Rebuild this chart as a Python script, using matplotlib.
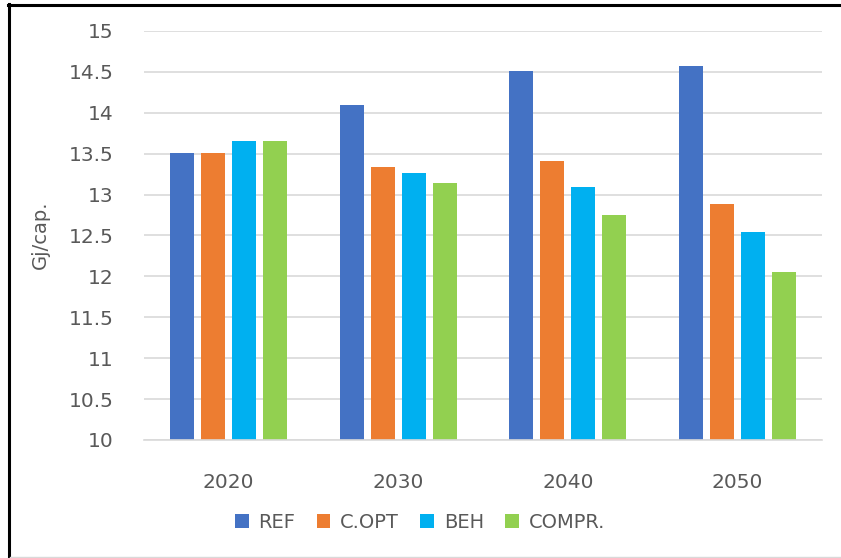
import numpy as np
import matplotlib.pyplot as plt
from matplotlib.lines import Line2D

# values (Gj/cap.)
years = ['2020', '2030', '2040', '2050']
series = ['REF', 'C.OPT', 'BEH', 'COMPR.']
ref = [13.51, 14.09, 14.51, 14.575]
copt = [13.51, 13.34, 13.41, 12.88]
beh = [13.66, 13.27, 13.09, 12.54]
compr = [13.66, 13.14, 12.75, 12.05]
colors = ['#4472C4', '#ED7D31', '#00B0F0', '#92D050']

plt.rcParams['font.family'] = ['DejaVu Sans']
txt = '#595959'

fig = plt.figure(figsize=(8.41, 5.58), dpi=100)
ax = fig.add_axes([144/841, 1-440/558, (822-144)/841, (440-31)/558])

x = np.arange(len(years))
width = 0.1416
pitch = 0.183
for i, (vals, name) in enumerate(zip([ref, copt, beh, compr], series)):
    off = (i - 1.5) * pitch
    ax.bar(x + off, np.array(vals) - 10, width, bottom=10, color=colors[i], label=name, zorder=3)

ax.set_xlim(-0.5, 3.5)
ax.set_ylim(10, 15)
ax.set_yticks(np.arange(10, 15.01, 0.5))
ax.set_yticklabels(['10', '10.5', '11', '11.5', '12', '12.5', '13', '13.5', '14', '14.5', '15'])
ax.set_xticks(x)
ax.set_xticklabels(years)
ax.tick_params(axis='y', length=0, pad=22, labelsize=14.5, labelcolor=txt)
ax.tick_params(axis='x', length=0, pad=24, labelsize=14.5, labelcolor=txt)
ax.grid(axis='y', color='#d9d9d9', linewidth=1.2, zorder=0)
for s in ['top', 'right', 'left']:
    ax.spines[s].set_visible(False)
ax.spines['bottom'].set_color('#d9d9d9')
ax.spines['bottom'].set_linewidth(1.2)
ax.spines['bottom'].set_zorder(4)

fig.text(40/841, 1-235/558, 'Gj/cap.', rotation=90, ha='center', va='center', fontsize=14, color=txt)

fig.legend(loc='center', bbox_to_anchor=(420/841, 1-522/558), ncol=4, frameon=False,
           fontsize=14, labelcolor=txt, handlelength=0.7, handleheight=0.7,
           handletextpad=0.5, columnspacing=1.1)

# outer frame like the screenshot
fig.add_artist(Line2D([9/841, 9/841], [0, 1-4/558], color='black', linewidth=2.2, transform=fig.transFigure))
fig.add_artist(Line2D([8/841, 1], [1-5/558, 1-5/558], color='black', linewidth=2.2, transform=fig.transFigure))
fig.add_artist(Line2D([10/841, 1], [1/558, 1/558], color='#d9d9d9', linewidth=1, transform=fig.transFigure))

fig.savefig('out.png', dpi=100)
